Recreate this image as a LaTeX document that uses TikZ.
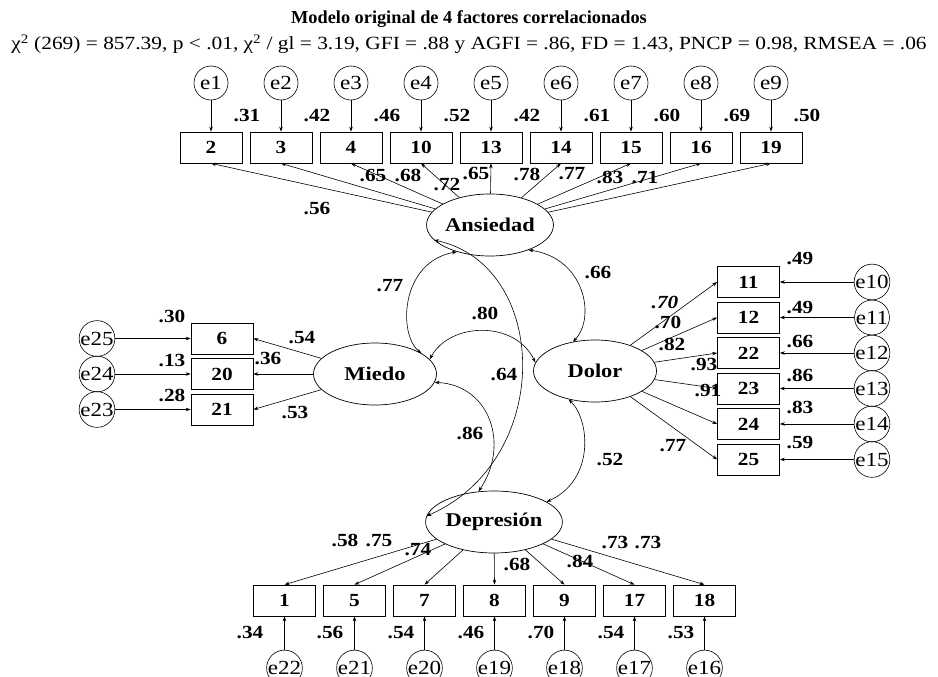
\documentclass[tikz,border=0pt]{standalone}
\usepackage{fontspec}
\setmainfont{Liberation Serif}
\usetikzlibrary{shapes.geometric,arrows.meta}
\newcommand{\sx}[1]{\scalebox{1.15}[1]{#1}}
\tikzset{
 lat/.style={ellipse, draw, line width=0.7pt, minimum width=123pt, minimum height=62pt, inner sep=0pt, font=\fontsize{19.5}{19}\selectfont\bfseries},
 obs/.style={rectangle, draw, line width=0.7pt, minimum width=62pt, minimum height=31pt, inner sep=0pt, font=\fontsize{18.5}{18}\selectfont\bfseries},
 err/.style={circle, draw, line width=0.6pt, minimum size=34pt, inner sep=0pt, font=\fontsize{20}{20}\selectfont},
 lbl/.style={font=\fontsize{18.5}{18}\selectfont\bfseries, inner sep=0pt, anchor=base, yshift=-6.2pt},
 load/.style={-{Stealth[length=5pt,width=3.5pt]}, line width=0.6pt},
 cov/.style={{Stealth[length=5pt,width=3.5pt]}-{Stealth[length=5pt,width=3.5pt]}, line width=0.6pt},
}
\begin{document}
\begin{tikzpicture}[x=1pt,y=-1pt]
\useasboundingbox (0,0) rectangle (938,677);
\node[font=\fontsize{18.3}{18}\selectfont\bfseries, anchor=base, inner sep=0pt] (title) at (469,24) {Modelo original de 4 factores correlacionados};
\node[font=\fontsize{18.6}{18}\selectfont, anchor=base, inner sep=0pt] (stats) at (469,50) {\sx{χ\textsuperscript{2} (269) = 857.39, p < .01, χ\textsuperscript{2} / gl = 3.19, GFI = .88 y AGFI = .86, FD = 1.43, PNCP = 0.98, RMSEA = .06}};

% latent variables
\node[lat] (ans) at (490,225) {\sx{Ansiedad}};
\node[lat] (miedo) at (375,374) {\sx{Miedo}};
\node[lat] (dolor) at (595,371) {\sx{Dolor}};
\node[lat] (dep) at (494,522) {\sx{Depresión}};

% Ansiedad indicators
\foreach \lab/\e/\r/\i in {2/e1/.31/0, 3/e2/.42/1, 4/e3/.46/2, 10/e4/.52/3, 13/e5/.42/4, 14/e6/.61/5, 15/e7/.60/6, 16/e8/.69/7, 19/e9/.50/8} {
  \node[obs] (t\lab) at ({211+70*\i},147.5) {\sx{\lab}};
  \node[err] (\e) at ({211+70*\i},83) {\sx{\e}};
  \node[lbl] (rt\lab) at ({247+70*\i},115) {\sx{\r}};
  \draw[load] (\e) -- (t\lab);
  \draw[load] (ans) -- (t\lab.south);
}
\node[lbl] (la1) at (317,208) {\sx{.56}};
\node[lbl] (la2) at (373,175) {\sx{.65}};
\node[lbl] (la3) at (408,175) {\sx{.68}};
\node[lbl] (la4) at (447,184) {\sx{.72}};
\node[lbl] (la5) at (476,173) {\sx{.65}};
\node[lbl] (la6) at (527,174) {\sx{.78}};
\node[lbl] (la7) at (572,173) {\sx{.77}};
\node[lbl] (la8) at (610,177) {\sx{.83}};
\node[lbl] (la9) at (645,177) {\sx{.71}};

% Miedo indicators
\foreach \lab/\e/\y in {6/e25/338.5, 20/e24/374, 21/e23/409.5} {
  \node[obs] (m\lab) at (222,\y) {\sx{\lab}};
  \node[err] (\e) at (97,\y) {\sx{\e}};
  \draw[load] (\e) -- (m\lab);
  \draw[load] (miedo) -- (m\lab.east);
}
\node[lbl] (rm1) at (172,316) {\sx{.30}};
\node[lbl] (rm2) at (172,360) {\sx{.13}};
\node[lbl] (rm3) at (172,395) {\sx{.28}};
\node[lbl] (lm1) at (302,337) {\sx{.54}};
\node[lbl] (lm2) at (268,358) {\sx{.36}};
\node[lbl] (lm3) at (295,412) {\sx{.53}};

% Dolor indicators
\foreach \lab/\e/\y in {11/e10/282, 12/e11/317.5, 22/e12/353, 23/e13/388.5, 24/e14/424, 25/e15/459.5} {
  \node[obs] (d\lab) at (748.5,\y) {\sx{\lab}};
  \node[err] (\e) at (872,\y) {\sx{\e}};
  \draw[load] (\e) -- (d\lab);
  \draw[load] (dolor) -- (d\lab.west);
}
\node[lbl] (rd1) at (800,258) {\sx{.49}};
\node[lbl] (rd2) at (800,307) {\sx{.49}};
\node[lbl] (rd3) at (800,341) {\sx{.66}};
\node[lbl] (rd4) at (800,375) {\sx{.86}};
\node[lbl] (rd5) at (800,407) {\sx{.83}};
\node[lbl] (rd6) at (800,442) {\sx{.59}};
\node[lbl] (ld0) at (665,302) {\sx{\itshape .70}};
\node[lbl] (ld1) at (668,322) {\sx{.70}};
\node[lbl] (ld2) at (672,344) {\sx{.82}};
\node[lbl] (ld3) at (704,364) {\sx{.93}};
\node[lbl] (ld4) at (708,390) {\sx{.91}};
\node[lbl] (ld5) at (673,445) {\sx{.77}};

% Depresion indicators
\foreach \lab/\e/\x in {1/e22/284.5, 5/e21/354.5, 7/e20/424.5, 8/e19/494.5, 9/e18/564.5, 17/e17/634.5, 18/e16/704.5} {
  \node[obs] (b\lab) at (\x,600.5) {\sx{\lab}};
  \node[err] (\e) at (\x,668) {\sx{\e}};
  \draw[load] (\e) -- (b\lab);
  \draw[load] (dep) -- (b\lab.north);
}
\node[lbl] (rb1) at (250,632) {\sx{.34}};
\node[lbl] (rb2) at (330,632) {\sx{.56}};
\node[lbl] (rb3) at (401,632) {\sx{.54}};
\node[lbl] (rb4) at (471,632) {\sx{.46}};
\node[lbl] (rb5) at (541,632) {\sx{.70}};
\node[lbl] (rb6) at (611,632) {\sx{.54}};
\node[lbl] (rb7) at (681,632) {\sx{.53}};
\node[lbl] (lb1) at (345,540) {\sx{.58}};
\node[lbl] (lb2) at (379,540) {\sx{.75}};
\node[lbl] (lb3) at (418,549) {\sx{.74}};
\node[lbl] (lb4) at (517,564) {\sx{.68}};
\node[lbl] (lb5) at (580,561) {\sx{.84}};
\node[lbl] (lb6) at (615,542) {\sx{.73}};
\node[lbl] (lb7) at (648,542) {\sx{.73}};

% covariances
\draw[cov] (ans.219) .. controls (400,262) and (398,335) .. (miedo.24);
\draw[cov] (ans.327) .. controls (585,258) and (596,318) .. (dolor.127);
\draw[cov] (miedo.15) .. controls (450,322) and (515,320) .. (dolor.172);
\draw[cov] (ans.195) .. controls (550,265) and (555,460) .. (dep.175);
\draw[cov] (miedo.352) .. controls (490,385) and (510,445) .. (dep.117);
\draw[cov] (dolor.227) .. controls (590,420) and (595,480) .. (dep.21);
\node[lbl] (c1) at (390,285) {\sx{.77}};
\node[lbl] (c2) at (598,272) {\sx{.66}};
\node[lbl] (c3) at (485,313) {\sx{.80}};
\node[lbl] (c4) at (504,374) {\sx{.64}};
\node[lbl] (c5) at (470,433) {\sx{.86}};
\node[lbl] (c6) at (610,459) {\sx{.52}};
\end{tikzpicture}
\end{document}
